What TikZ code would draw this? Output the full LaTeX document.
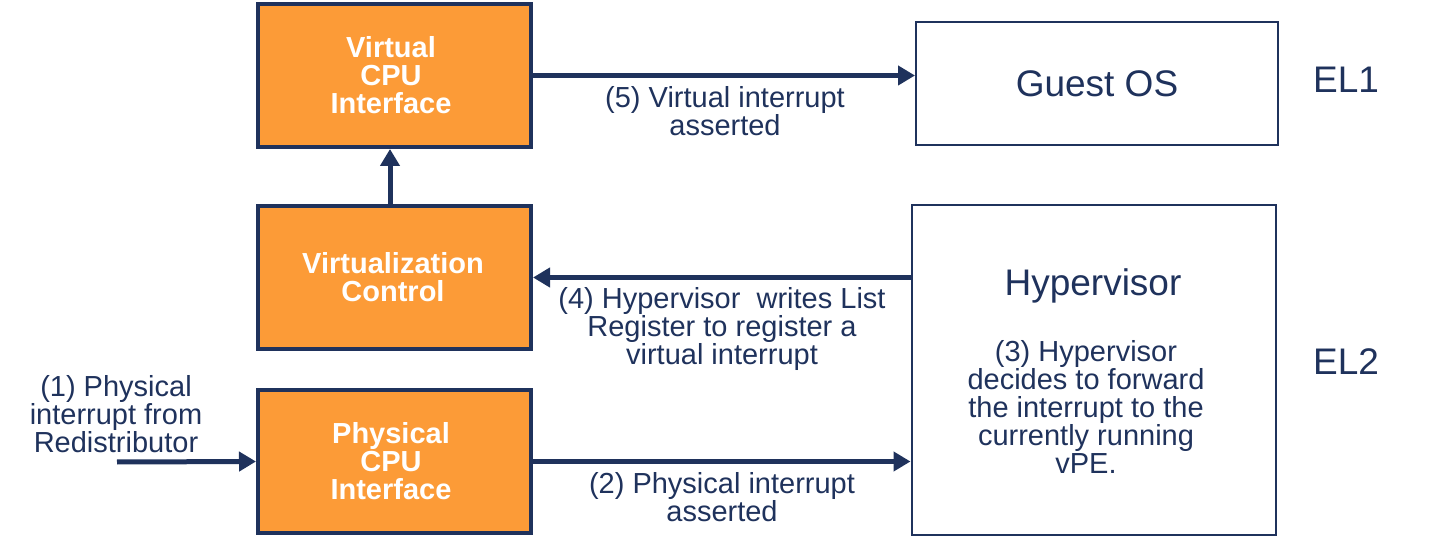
\documentclass[tikz,border=0pt]{standalone}
\usepackage{fontspec}
\setmainfont{Liberation Sans}
\usetikzlibrary{arrows.meta}
\definecolor{navy}{RGB}{31,50,92}
\definecolor{orng}{RGB}{252,155,55}
\begin{document}
\begin{tikzpicture}[x=1pt,y=-1pt,
  obox/.style={draw=navy,line width=4pt,fill=orng,text=white,align=center,
    font=\fontsize{29}{28}\selectfont\bfseries,inner sep=0pt,
    minimum width=273pt,minimum height=143pt},
  wbox/.style={draw=navy,line width=2pt,fill=white,text=navy,inner sep=0pt},
  lbl/.style={text=navy,align=center,font=\fontsize{29}{28}\selectfont,inner sep=0pt},
  big/.style={text=navy,font=\fontsize{37}{40}\selectfont,inner sep=0pt},
  conn/.style={draw=navy,line width=5pt,-{Triangle[length=17pt,width=19pt]}}]
\useasboundingbox (0,0) rectangle (1444,545);
\node[obox] (vcpu) at (394.5,75.5) {};
\node[text=white,align=center,font=\fontsize{29}{28}\selectfont\bfseries,inner sep=0pt] (vcput) at (391,75) {Virtual\\CPU\\Interface};
\node[obox] (virt) at (394.5,277.5) {};
\node[text=white,align=center,font=\fontsize{29}{28}\selectfont\bfseries,inner sep=0pt] (virtt) at (393,277) {Virtualization\\Control};
\node[obox] (pcpu) at (394.5,461.5) {};
\node[text=white,align=center,font=\fontsize{29}{28}\selectfont\bfseries,inner sep=0pt] (pcput) at (391,461) {Physical\\CPU\\Interface};
\node[wbox,minimum width=362pt,minimum height=123pt] (guest) at (1097,83.5) {};
\node[big] (guestt) at (guest.center) {Guest OS};
\node[wbox,minimum width=364pt,minimum height=330pt] (hyp) at (1093.5,370) {};
\node[big] (hypt) at (1093,286) {Hypervisor};
\node[lbl] (hyps) at (1086,407) {(3) Hypervisor\\decides to forward\\the interrupt to the\\currently running\\vPE.};
\node[big] (el1) at (1346,80) {EL1};
\node[big] (el2) at (1346,362) {EL2};
\coordinate (src) at (117,462);
\draw[conn] (vcpu.east) -- (vcpu.east -| guest.west);
\draw[conn] ([xshift=-4.5pt]virt.north) -- ([xshift=-4.5pt]vcpu.south);
\draw[conn] (virt.east -| hyp.west) -- (virt.east);
\draw[conn] (pcpu.east) -- (pcpu.east -| hyp.west);
\draw[conn] (src) -- (pcpu.west);
\node[lbl] (l5) at (725,111) {(5) Virtual interrupt\\asserted};
\node[lbl] (l4) at (722,329) {(4) Hypervisor\ \ writes List\\Register to register a\\virtual interrupt};
\node[lbl] (l2) at (722,497) {(2) Physical interrupt\\asserted};
\node[lbl] (l1) at (116,414) {(1) Physical\\interrupt from\\Redistributor};
\end{tikzpicture}
\end{document}
